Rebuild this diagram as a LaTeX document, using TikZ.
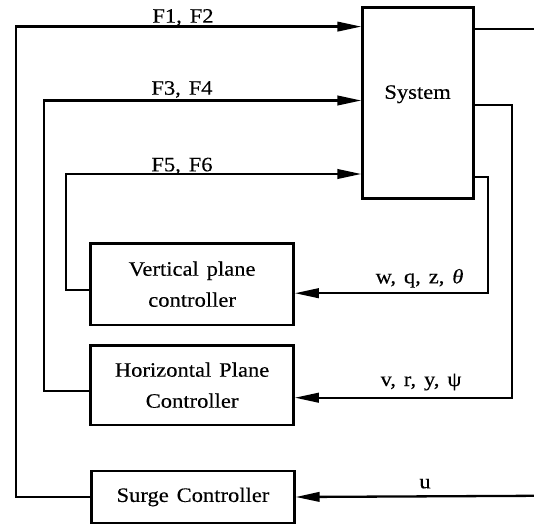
\documentclass[tikz,border=0pt]{standalone}
\usepackage{fontspec}
\setmainfont{Liberation Serif}[WordSpace=1.4, FakeStretch=1.1, FakeBold=0.3]
\usetikzlibrary{arrows.meta}
\begin{document}
\begin{tikzpicture}[x=1pt,y=-1pt,
  box/.style={draw, line width=2.3pt, inner sep=0pt, align=center, font=\fontsize{20.5}{31}\selectfont},
  lbl/.style={anchor=base, inner sep=0pt, font=\fontsize{20.5}{25}\selectfont},
  wire/.style={line width=2.3pt},
  arr/.style={wire, -{Triangle[length=24pt,width=9.5pt]}}]
\useasboundingbox (0,0) rectangle (534,524);
\node[box, minimum width=111pt, minimum height=191pt] (sys) at (418,103) {};
\node[lbl] (systxt) at (417.6,98.8) {System};
\node[box, minimum width=203pt, minimum height=81.5pt] (vc) at (192.1,284.2) {Vertical plane\\controller};
\node[box, minimum width=203pt, minimum height=79.5pt] (hc) at (192.1,385.2) {Horizontal Plane\\Controller};
\node[box, minimum width=203pt, minimum height=52pt] (sc) at (193,497) {Surge Controller};
\coordinate (l1) at (16,26.6);
\coordinate (l2) at (44,100.5);
\coordinate (l3) at (66,174);
\coordinate (r2) at (512,105);
\coordinate (r3) at (487.7,177);
\coordinate (o1) at (534,29);
\coordinate (uin) at (534,495.8);
\coordinate (vcl) at ([yshift=-6pt]vc.west);
\coordinate (hcl) at ([yshift=-6pt]hc.west);
\coordinate (vcr) at ([yshift=-9pt]vc.east);
\coordinate (hcr) at ([yshift=-12.5pt]hc.east);
\draw[arr] (vcl) -| (l3) -- (sys.west |- l3);
\draw[arr] (hcl) -| (l2) -- (sys.west |- l2);
\draw[arr] (sc.west) -| (l1) -- (sys.west |- l1);
\draw[wire] (sys.east |- o1) -- (o1);
\draw[arr] (sys.east |- r2) -- (r2) |- (hcr);
\draw[arr] (sys.east |- r3) -- (r3) |- (vcr);
\draw[arr] (uin) -- (sc.east);
\node[lbl] (f12) at (183,22.7) {F1, F2};
\node[lbl] (f34) at (182,94.7) {F3, F4};
\node[lbl] (f56) at (182,171.3) {F5, F6};
\node[lbl] (wqz) at (419.5,283.3) {w, q, z, {\itshape θ}};
\node[lbl] (vry) at (421,386) {v, r, y, ψ};
\node[lbl] (uu) at (425,488.3) {u};
\end{tikzpicture}
\end{document}
